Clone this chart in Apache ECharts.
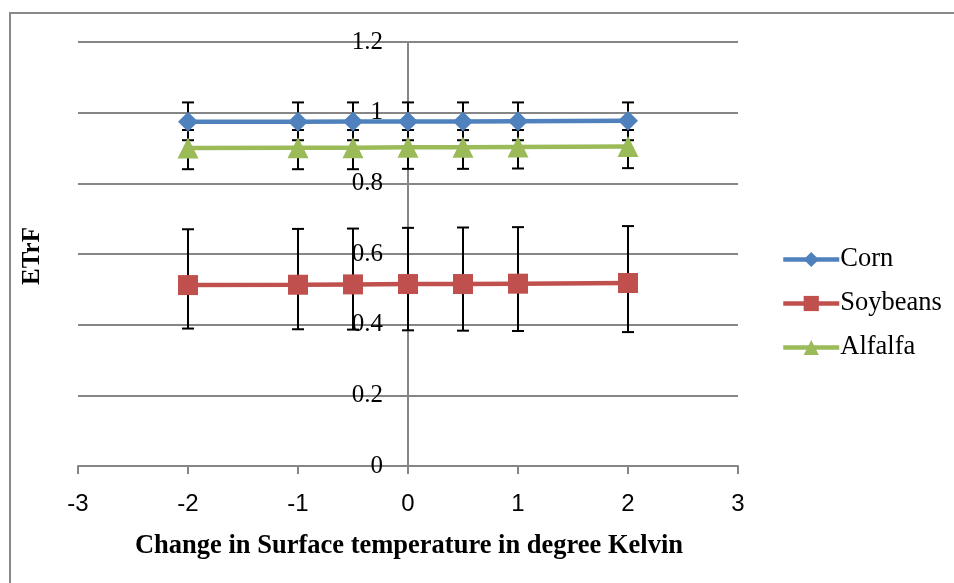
<!DOCTYPE html>
<html>
<head>
<meta charset="utf-8">
<script src="https://cdn.jsdelivr.net/npm/echarts@6/dist/echarts.min.js"></script>
<style>html,body{margin:0;padding:0;background:#fff;}#c{width:954px;height:583px;}</style>
</head>
<body>
<div id="c"></div>
<script>
const xValues = [-2, -1, -0.5, 0, 0.5, 1, 2];
const cornValues = [0.974, 0.974, 0.975, 0.975, 0.975, 0.976, 0.977];
const cornLow = [0.922, 0.922, 0.922, 0.922, 0.922, 0.922, 0.922];
const cornHigh = [1.029, 1.029, 1.029, 1.029, 1.029, 1.029, 1.029];
const soyValues = [0.512, 0.513, 0.514, 0.515, 0.515, 0.516, 0.518];
const soyLow = [0.389, 0.387, 0.386, 0.384, 0.383, 0.382, 0.379];
const soyHigh = [0.670, 0.671, 0.672, 0.674, 0.675, 0.676, 0.679];
const alfalfaValues = [0.900, 0.901, 0.901, 0.902, 0.902, 0.903, 0.904];
const alfalfaLow = [0.840, 0.840, 0.840, 0.841, 0.841, 0.842, 0.843];
const alfalfaHigh = [0.951, 0.951, 0.951, 0.951, 0.951, 0.951, 0.951];
const seriesNames = ['Corn', 'Soybeans', 'Alfalfa'];
const xTitle = 'Change in Surface temperature in degree Kelvin';
const yTitle = 'ETrF';

const colors = ['#4F81BD', '#C0504D', '#9BBB59'];
const serif = '"Liberation Serif","Times New Roman",serif';

function pairs(vals) { return xValues.map((x, i) => [x, vals[i]]); }
function errData(low, high) { return xValues.map((x, i) => [x, low[i], high[i]]); }

const errSeries = [[cornLow, cornHigh], [soyLow, soyHigh], [alfalfaLow, alfalfaHigh]].map(([lo, hi]) => ({
  type: 'custom',
  silent: true,
  z: 1,
  data: errData(lo, hi),
  encode: { x: 0, y: [1, 2] },
  renderItem: function (params, api) {
    const x = api.value(0);
    const p1 = api.coord([x, api.value(1)]);
    const p2 = api.coord([x, api.value(2)]);
    const hw = 6;
    const st = { stroke: '#000', lineWidth: 2 };
    return {
      type: 'group',
      children: [
        { type: 'line', shape: { x1: p1[0], y1: p1[1], x2: p2[0], y2: p2[1] }, style: st },
        { type: 'line', shape: { x1: p1[0] - hw, y1: p1[1], x2: p1[0] + hw, y2: p1[1] }, style: st },
        { type: 'line', shape: { x1: p2[0] - hw, y1: p2[1], x2: p2[0] + hw, y2: p2[1] }, style: st }
      ]
    };
  }
}));

const symbols = ['diamond', 'rect', 'triangle'];
const symbolSizes = [20, 20, 21];
const lineSeries = [cornValues, soyValues, alfalfaValues].map((vals, i) => ({
  name: seriesNames[i],
  type: 'line',
  z: 3,
  data: pairs(vals),
  symbol: symbols[i],
  symbolSize: symbolSizes[i],
  itemStyle: { color: colors[i] },
  lineStyle: { color: colors[i], width: 4.5 },
  emphasis: { disabled: true },
  animation: false
}));

const chart = echarts.init(document.getElementById('c'));
chart.setOption({
  animation: false,
  backgroundColor: '#fff',
  grid: { left: 78, right: 216, top: 42, bottom: 117, containLabel: false },
  xAxis: {
    type: 'value', min: -3, max: 3, interval: 1,
    axisLine: { onZero: false, lineStyle: { color: '#868686', width: 2 } },
    axisTick: { show: true, length: 8, lineStyle: { color: '#868686', width: 2 } },
    axisLabel: { fontFamily: '"Liberation Sans",Arial,sans-serif', fontSize: 24, color: '#000', margin: 26 },
    splitLine: { show: false }
  },
  yAxis: {
    type: 'value', min: 0, max: 1.2, interval: 0.2,
    position: 'left', offset: -330,
    axisLine: { show: true, onZero: false, lineStyle: { color: '#868686', width: 2 } },
    axisTick: { show: false },
    axisLabel: { fontFamily: serif, fontSize: 25, color: '#000', margin: 25,
      formatter: v => String(Math.round(v * 10) / 10) },
    splitLine: { show: true, lineStyle: { color: '#868686', width: 2 } }
  },
  legend: {
    data: seriesNames,
    orient: 'vertical',
    left: 781, top: 246, padding: 0,
    itemWidth: 56, itemHeight: 19, itemGap: 17,
    lineStyle: { width: 4.5 },
    textStyle: { fontFamily: serif, fontSize: 26.5, color: '#000', padding: [0, 0, 0, -4] },
    selectedMode: false
  },
  graphic: [
    { type: 'rect', shape: { x: 10, y: 13, width: 1200, height: 1200 }, style: { fill: 'none', stroke: '#898989', lineWidth: 2 }, silent: true, z: -1 },
    { type: 'text', x: 409, y: 546, style: { text: xTitle, font: 'bold 26.5px ' + serif, fill: '#000', textAlign: 'center', textVerticalAlign: 'middle' } },
    { type: 'text', x: 33, y: 256, rotation: Math.PI / 2, style: { text: yTitle, font: 'bold 25px ' + serif, fill: '#000', textAlign: 'center', textVerticalAlign: 'middle' } }
  ],
  series: [...errSeries, ...lineSeries]
});
</script>
</body>
</html>
